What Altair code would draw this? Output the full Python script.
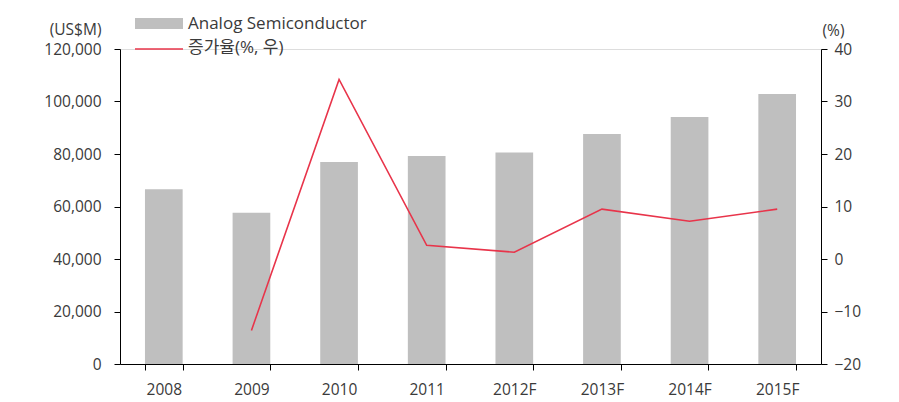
import altair as alt
import pandas as pd

years = ["2008", "2009", "2010", "2011", "2012F", "2013F", "2014F", "2015F"]
sales = [66600, 57600, 77000, 79200, 80600, 87600, 94100, 102900]
growth = [None, -13.6, 34.2, 2.6, 1.3, 9.5, 7.2, 9.5]

legend_labels = ["Analog Semiconductor", "증가율(%, 우)"]

df = pd.DataFrame({"year": years, "sales": sales, "growth": growth})
df_line = df.dropna(subset=["growth"])

FONT = "Open Sans, Noto Sans CJK KR"
TXT = "#3a3a3a"

x = alt.X("year:N", sort=years, title=None,
          scale=alt.Scale(paddingInner=0.57, paddingOuter=0.285),
          axis=alt.Axis(labelAngle=0, tickBand="extent", tickSize=6, tickColor="black",
                        domainColor="black", labelFontSize=15.5, labelColor=TXT,
                        labelFont=FONT, labelPadding=12, grid=False))

bars = alt.Chart(df).mark_bar(color="#BFBFBF").encode(
    x=x,
    y=alt.Y("sales:Q", scale=alt.Scale(domain=[0, 120000], nice=False),
            axis=alt.Axis(values=[0, 20000, 40000, 60000, 80000, 100000, 120000],
                          format=",.0f", title="(US$M)", titleAngle=0, titleAlign="right",
                          titleBaseline="middle", titleX=-19, titleY=-20,
                          titleFont=FONT, titleFontSize=15.5, titleFontWeight="normal",
                          titleColor=TXT, tickSize=6, tickColor="black",
                          domainColor="black", labelFontSize=15.5, labelColor=TXT,
                          labelFont=FONT, labelPadding=13, grid=False))
)

line = alt.Chart(df_line).mark_line(color="#E8344A", strokeWidth=1.6).encode(
    x=alt.X("year:N", sort=years),
    y=alt.Y("growth:Q", scale=alt.Scale(domain=[-20, 40], nice=False),
            axis=alt.Axis(values=[-20, -10, 0, 10, 20, 30, 40], orient="right",
                          format="d",
                          title="(%)", titleAngle=0, titleAlign="left",
                          titleBaseline="middle", titleX=1, titleY=-19,
                          titleFont=FONT, titleFontSize=15.5, titleFontWeight="normal",
                          titleColor=TXT, tickSize=6, tickColor="black",
                          domainColor="black", labelFontSize=15.5, labelColor=TXT,
                          labelFont=FONT, labelPadding=7, grid=False))
)

leg_df = pd.DataFrame({"label": legend_labels})
leg_rect = alt.Chart(leg_df.iloc[[0]]).mark_rect(color="#BFBFBF").encode(
    x=alt.value(15), x2=alt.value(63), y=alt.value(-31), y2=alt.value(-20))
leg_rule = alt.Chart(leg_df.iloc[[1]]).mark_rule(color="#E8344A", strokeWidth=1.6).encode(
    x=alt.value(15), x2=alt.value(63), y=alt.value(0))
leg_text1 = alt.Chart(leg_df.iloc[[0]]).mark_text(
    align="left", baseline="middle", font=FONT, fontSize=17, color=TXT).encode(
    x=alt.value(68), y=alt.value(-25), text="label:N")
leg_text2 = alt.Chart(leg_df.iloc[[1]]).mark_text(
    align="left", baseline="middle", font=FONT, fontSize=17, color=TXT).encode(
    x=alt.value(68), y=alt.value(-1), text="label:N")

main = alt.layer(bars, line).resolve_scale(y="independent")

chart = alt.layer(main, leg_rect, leg_rule, leg_text1, leg_text2).properties(
    width=701, height=315,
    autosize=alt.AutoSizeParams(type="none"),
    padding={"left": 120, "top": 49, "right": 78, "bottom": 38},
).configure_view(stroke=None).configure(background="white")

chart.save("out.html", embed_options={"renderer": "svg", "actions": False})
